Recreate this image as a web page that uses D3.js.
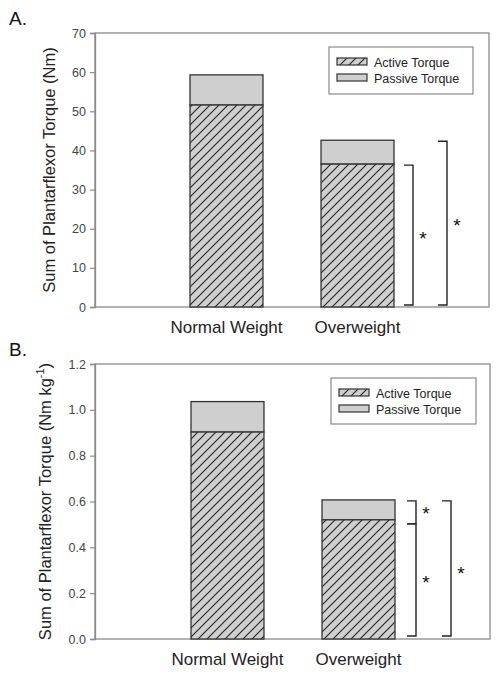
<!DOCTYPE html>
<html><head><meta charset="utf-8">
<script src="https://cdn.jsdelivr.net/npm/d3@7"></script>
<style>body{margin:0;background:#fff}svg{display:block;font-family:"Liberation Sans",Arial,sans-serif}</style>
</head><body><svg id="c" width="501" height="679"></svg>
<script>
const categories = ["Normal Weight", "Overweight"];
const activeA = [51.6, 36.5];
const passiveA = [7.7, 6.1];
const activeB = [0.903, 0.52];
const passiveB = [0.133, 0.087];
const ticksA = [0, 10, 20, 30, 40, 50, 60, 70];
const ticksB = [0, 0.2, 0.4, 0.6, 0.8, 1.0, 1.2];
const seriesNames = ["Active Torque", "Passive Torque"];

const svg = d3.select("#c");
const defs = svg.append("defs");
const pat = defs.append("pattern").attr("id","hatch").attr("patternUnits","userSpaceOnUse")
  .attr("width",9).attr("height",9);
pat.append("rect").attr("width",9).attr("height",9).attr("fill","#cfcfcf");
pat.append("path").attr("d","M-1,10 L10,-1 M-1,1 L1,-1 M8,10 L10,8").attr("stroke","#2a2a2a").attr("stroke-width",1.2);

function panel(o){
  const g = svg.append("g");
  const y = d3.scaleLinear().domain([0,o.max]).range([o.y1,o.y0]);
  const x = d3.scaleBand().domain(categories).range([o.bx0, o.bx1]).paddingInner(0.443).paddingOuter(0);
  g.append("rect").attr("x",o.x0).attr("y",o.y0).attr("width",o.x1-o.x0).attr("height",o.y1-o.y0)
    .attr("fill","none").attr("stroke","#8a8a8a").attr("stroke-width",1.3);
  const ax = g.append("g").attr("transform",`translate(${o.x0},0)`)
    .call(d3.axisLeft(y).tickValues(o.ticks).tickSize(5).tickPadding(4).tickFormat(o.fmt));
  ax.select(".domain").attr("stroke","#8a8a8a").attr("stroke-width",1.3);
  ax.selectAll(".tick line").attr("stroke","#8a8a8a").attr("stroke-width",1.2);
  ax.selectAll(".tick text").attr("font-size",12.5).attr("fill","#444").attr("font-family","Liberation Sans, Arial, sans-serif");
  categories.forEach((c,i)=>{
    const a = o.active[i], p = o.passive[i];
    g.append("rect").attr("x",x(c)).attr("width",x.bandwidth()).attr("y",y(a+p)).attr("height",y(a)-y(a+p))
      .attr("fill","#cfcfcf").attr("stroke","#333").attr("stroke-width",1.3);
    g.append("rect").attr("x",x(c)).attr("width",x.bandwidth()).attr("y",y(a)).attr("height",y(0)-y(a))
      .attr("fill","url(#hatch)").attr("stroke","#333").attr("stroke-width",1.3);
    g.append("text").attr("x",x(c)+x.bandwidth()/2).attr("y",o.y1+26).attr("text-anchor","middle")
      .attr("font-size",17).attr("fill","#222").text(c);
  });
  const t = g.append("text").attr("transform",`translate(${o.titleX},${(o.y0+o.y1)/2}) rotate(-90)`)
    .attr("text-anchor","middle").attr("font-size",16.5).attr("fill","#222");
  t.append("tspan").text(o.title);
  if(o.sup){ t.append("tspan").attr("font-size",11).attr("dy",-7).text(o.sup); t.append("tspan").attr("dy",7).text(")"); }
  g.append("text").attr("x",9).attr("y",o.letterY).attr("font-size",19).attr("fill","#111").text(o.letter);
  const L = o.legend;
  g.append("rect").attr("x",L.x).attr("y",L.y).attr("width",L.w).attr("height",L.h)
    .attr("fill","#fff").attr("stroke","#8a8a8a").attr("stroke-width",1.2);
  seriesNames.forEach((s,i)=>{
    const yy = L.y + 11 + i*16;
    g.append("rect").attr("x",L.x+8).attr("y",yy).attr("width",30).attr("height",7)
      .attr("fill", i===0 ? "url(#hatch)" : "#cfcfcf").attr("stroke","#333").attr("stroke-width",1.2);
    g.append("text").attr("x",L.x+45).attr("y",yy+8.5).attr("font-size",12.5).attr("fill","#222").text(s);
  });
  o.brackets.forEach(b=>{
    const yt = y(b.top), yb = y(b.bot);
    g.append("path").attr("d",`M${b.x-9},${yt+b.pt} H${b.x} V${yb-b.pb} H${b.x-9}`)
      .attr("fill","none").attr("stroke","#222").attr("stroke-width",1.4);
    g.append("text").attr("x",b.x+10).attr("y",b.sy).attr("text-anchor","middle").attr("font-size",19).attr("fill","#111").text("*");
  });
}

panel({x0:95,x1:489,y0:33,y1:307,bx0:190,bx1:394,max:70,ticks:ticksA,fmt:d3.format("d"),active:activeA,passive:passiveA,
  title:"Sum of Plantarflexor Torque (Nm)",titleX:55,letter:"A.",letterY:25,
  legend:{x:329,y:47,w:144,h:47},
  brackets:[{x:413,top:activeA[1],bot:0,pt:1,pb:2,sy:245},{x:447,top:activeA[1]+passiveA[1],bot:0,pt:1,pb:2,sy:232}]});
panel({x0:95,x1:490,y0:364,y1:639,bx0:191,bx1:395,max:1.2,ticks:ticksB,fmt:d3.format(".1f"),active:activeB,passive:passiveB,
  title:"Sum of Plantarflexor Torque (Nm kg",sup:"-1",titleX:51,letter:"B.",letterY:356,
  legend:{x:331,y:378,w:145,h:46},
  brackets:[{x:416,top:activeB[1]+passiveB[1],bot:activeB[1],pt:1,pb:-4,sy:520},
            {x:416,top:activeB[1],bot:0,pt:4,pb:3,sy:589},
            {x:451,top:activeB[1]+passiveB[1],bot:0,pt:1,pb:3,sy:580}]});
</script></body></html>
